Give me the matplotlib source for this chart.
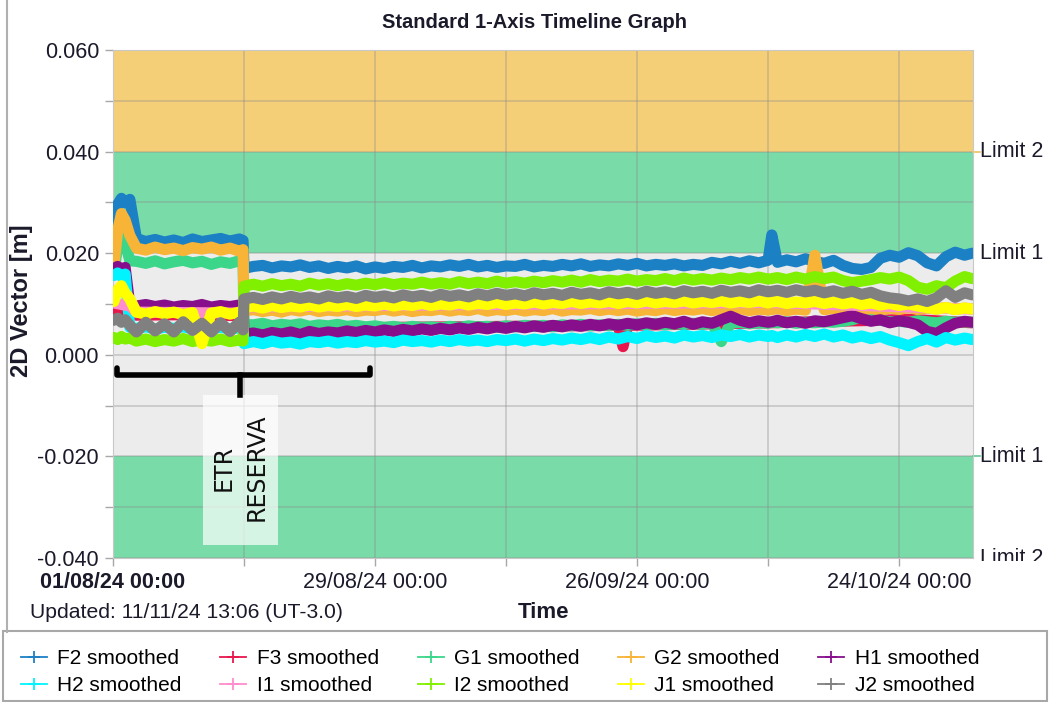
import datetime as dt
import numpy as np
import matplotlib
matplotlib.use("Agg")
import matplotlib.pyplot as plt
from matplotlib.patches import Rectangle
from matplotlib.lines import Line2D
from matplotlib.ticker import MultipleLocator, FormatStrFormatter
from matplotlib.transforms import Bbox, TransformedBbox, blended_transform_factory
import matplotlib.dates as mdates

plt.rcParams['font.family'] = ['Liberation Sans', 'DejaVu Sans']

START = dt.datetime(2024, 8, 1)

# sample times in days after 01/08/24 00:00
days_pre = [0.1, 0.5, 0.9, 1.3, 1.8, 2.5, 3.5, 4.5, 5.5, 6.5, 7.5, 8.5, 9.5, 10.5, 11.5, 12.5, 13.5, 13.9]
days_post = list(range(14, 71)) + [70.4] + list(range(71, 92)) + [91.8]

# smoothed 2D displacement, mm
f2_pre = [19.8, 29.6, 30.8, 29.9, 30.6, 22.9, 22.3, 22.7, 22.2, 22.6, 22.1, 22.8, 22.3, 22.6, 22.9, 22.4, 22.8, 22.5]
f2_post = [17.0,
           17.4, 17.6, 17.1, 17.5, 17.3, 17.7, 17.2, 17.5, 17.0, 17.4,
           17.1, 17.5, 16.9, 17.3, 17.0, 17.4, 17.2, 17.6, 17.1, 17.5,
           17.3, 17.7, 17.4, 17.8, 17.3, 17.6, 17.2, 17.5, 17.4, 17.8,
           17.3, 17.6, 17.4, 17.8, 17.5, 17.9, 17.4, 17.7, 17.5, 17.9,
           17.6, 18.0, 17.5, 17.8, 17.6, 17.9, 17.5, 17.8, 17.6, 18.2,
           17.9, 18.4, 18.0, 18.5, 18.1, 18.6,
           23.6,
           18.2, 18.7, 18.3, 18.9, 18.4, 18.0, 18.6, 17.6, 17.0, 16.8,
           17.2, 19.0, 19.6, 19.2, 20.1, 19.5, 18.1, 17.5, 19.3, 20.2, 19.6,
           20.0]

g1_pre = [16.0, 21.5, 24.0, 22.0, 18.5, 18.4, 18.0, 18.5, 17.9, 18.3, 18.6, 18.1, 18.4, 17.8, 18.3, 18.0, 18.5, 18.2]
g1_post = [6.0,
           5.9, 6.2, 5.7, 6.0, 5.8, 6.1, 5.6, 5.9, 5.7, 6.0,
           5.6, 5.8, 5.5, 5.7, 5.4, 5.6, 5.3, 5.6, 5.4, 5.5,
           5.3, 5.6, 5.4, 5.7, 5.5, 5.6, 5.4, 5.7, 5.5, 5.8,
           5.6, 5.8, 5.5, 5.9, 5.7, 6.0, 5.7, 5.9, 5.8, 6.0,
           5.8, 6.1, 5.9, 6.2, 5.9, 6.1, 6.0, 6.2, 6.0, 6.3,
           2.6, 6.2, 6.4, 6.1, 6.3, 6.2,
           6.5,
           6.3, 6.5, 6.2, 6.4, 6.3, 6.5, 6.4, 6.6, 6.9, 7.5,
           7.3, 6.8, 6.5, 6.6, 6.4, 6.7, 6.5, 6.3, 6.6, 6.4, 6.5,
           6.4]

g2_pre = [17.5, 24.5, 27.8, 26.5, 23.5, 21.0, 20.6, 21.2, 20.7, 21.0, 20.5, 21.1, 20.8, 21.2, 20.6, 21.0, 20.4, 20.7]
g2_post = [8.6,
           8.9, 8.5, 8.8, 8.4, 8.9, 8.6, 9.0, 8.5, 8.8, 8.6,
           8.9, 8.5, 8.8, 8.7, 9.0, 8.6, 8.9, 8.5, 8.8, 8.7,
           9.0, 8.6, 8.9, 8.7, 9.1, 8.6, 8.9, 8.7, 9.0, 8.6,
           8.9, 8.7, 9.1, 8.6, 8.9, 8.8, 9.1, 8.7, 9.0, 8.7,
           9.0, 8.6, 8.9, 8.7, 9.1, 8.7, 9.0, 8.8, 9.1, 8.7,
           9.0, 8.8, 9.1, 8.7, 9.0, 8.8,
           8.9,
           9.1, 8.7, 9.0, 8.8, 19.6, 8.9, 9.1, 8.7, 9.0, 8.8,
           9.1, 8.8, 9.2, 8.9, 9.3, 8.9, 9.2, 9.0, 9.3, 8.9, 9.2,
           9.0]

h1_pre = [17.0, 17.4, 16.8, 17.2, 9.8, 9.6, 9.9, 9.5, 9.8, 9.4, 9.7, 9.5, 9.9, 9.4, 9.7, 9.5, 9.8, 9.6]
h1_post = [4.0,
           4.3, 3.9, 4.4, 4.1, 4.5, 4.0, 4.6, 4.2, 4.5, 4.3,
           4.7, 4.4, 4.8, 4.5, 4.9, 4.6, 5.0, 4.7, 5.1, 4.8,
           5.2, 4.9, 5.3, 5.0, 5.4, 5.1, 5.5, 5.2, 5.6, 5.3,
           5.7, 5.4, 5.8, 5.5, 5.9, 5.6, 6.0, 5.7, 6.1, 5.8,
           6.2, 5.9, 6.3, 6.0, 6.4, 6.1, 6.6, 6.0, 6.5, 6.2,
           6.9, 7.6, 6.8, 6.3, 6.7, 6.4,
           6.5,
           6.8, 6.3, 6.6, 6.2, 6.7, 6.5, 6.9, 7.3, 7.7, 7.1,
           6.6, 6.9, 6.3, 6.7, 6.4, 5.9, 4.6, 4.2, 5.3, 6.2, 6.6,
           6.4]

h2_pre = [15.6, 16.1, 15.4, 15.9, 5.4, 5.2, 5.5, 5.1, 5.4, 5.2, 5.5, 5.1, 5.3, 5.2, 5.4, 5.1, 5.3, 5.2]
h2_post = [2.2,
           2.6, 2.2, 2.7, 2.3, 2.5, 2.1, 2.6, 2.4, 2.7, 2.3,
           2.6, 2.4, 2.8, 2.5, 2.7, 2.4, 2.9, 2.6, 2.8, 2.5,
           2.9, 2.6, 3.0, 2.7, 2.9, 2.6, 3.0, 2.8, 3.1, 2.7,
           3.1, 2.8, 3.2, 2.9, 3.3, 3.0, 3.4, 3.0, 3.5, 3.1,
           3.6, 3.2, 3.8, 3.4, 3.7, 3.3, 3.9, 3.5, 3.8, 3.4,
           3.9, 3.6, 4.0, 3.5, 3.9, 3.6,
           3.8,
           3.4, 3.9, 3.5, 4.0, 3.6, 4.1, 3.5, 3.9, 3.3, 3.7,
           3.2, 3.6, 2.9, 2.4, 1.8, 2.6, 3.2, 2.5, 3.4, 2.9, 3.3,
           3.0]

i2_pre = [3.4, 3.0, 3.6, 3.1, 3.3, 2.7, 3.1, 2.6, 3.0, 2.7, 3.2, 2.6, 3.0, 2.7, 3.1, 2.6, 2.9, 2.7]
i2_post = [13.5,
           13.9, 13.5, 14.0, 13.6, 13.9, 13.5, 14.1, 13.7, 14.0, 13.6,
           14.0, 13.7, 14.1, 13.8, 14.2, 13.8, 14.1, 13.9, 14.3, 13.9,
           14.2, 13.9, 14.4, 14.0, 14.3, 14.0, 14.5, 14.1, 14.4, 14.1,
           14.5, 14.2, 14.6, 14.3, 14.7, 14.3, 14.8, 14.4, 14.7, 14.5,
           14.9, 14.5, 14.8, 14.6, 15.0, 14.6, 15.1, 14.7, 15.0, 14.7,
           15.1, 14.8, 15.2, 14.9, 15.3, 14.9,
           15.0,
           15.2, 14.8, 15.3, 14.9, 15.4, 15.0, 15.3, 14.6, 14.2, 14.5,
           14.8, 15.2, 14.9, 15.3, 14.6, 13.3, 12.9, 13.6, 13.2, 14.5, 15.4,
           15.0]

j1_pre = [10.5, 12.8, 13.6, 12.2, 11.0, 8.4, 8.0, 8.5, 8.1, 8.4, 7.9, 8.3, 2.2, 8.2, 8.5, 8.0, 8.4, 8.1]
j1_post = [9.3,
           9.6, 9.2, 9.7, 9.3, 9.6, 9.4, 9.8, 9.4, 9.7, 9.5,
           9.9, 9.5, 9.8, 9.6, 10.0, 9.6, 9.9, 9.7, 10.1, 9.7,
           10.0, 9.8, 10.2, 9.8, 10.1, 9.9, 10.3, 9.9, 10.2, 10.0,
           10.4, 10.0, 10.3, 10.1, 10.5, 10.1, 10.4, 10.2, 10.5, 10.1,
           10.5, 10.2, 10.6, 10.2, 10.5, 10.3, 10.6, 10.2, 10.5, 10.3,
           10.6, 10.2, 10.5, 10.3, 10.6, 10.2,
           10.4,
           10.5, 10.1, 10.4, 10.2, 10.5, 10.1, 10.4, 10.0, 10.3, 9.9,
           10.2, 9.8, 10.1, 9.7, 10.0, 9.6, 9.3, 9.0, 9.3, 8.9, 9.2,
           9.0]

j2_pre = [6.8, 7.2, 6.4, 6.9, 5.8, 4.5, 6.4, 4.7, 6.1, 4.5, 6.5, 4.8, 6.2, 4.5, 6.3, 4.6, 6.4, 4.9]
j2_post = [11.0,
           11.3, 10.9, 11.4, 11.0, 11.5, 11.1, 11.4, 11.0, 11.6, 11.2,
           11.5, 11.1, 11.7, 11.3, 11.6, 11.2, 11.8, 11.4, 11.7, 11.3,
           11.9, 11.5, 11.8, 11.4, 12.0, 11.6, 12.1, 11.7, 12.0, 11.6,
           12.2, 11.8, 12.1, 11.7, 12.3, 11.9, 12.2, 11.8, 12.4, 12.0,
           12.3, 11.9, 12.5, 12.1, 12.4, 12.0, 12.6, 12.2, 12.5, 12.1,
           12.7, 12.3, 12.6, 12.2, 12.8, 12.4,
           12.5,
           12.7, 12.3, 12.8, 12.4, 12.7, 12.2, 12.6, 12.1, 12.5, 11.9,
           12.3, 11.6, 11.2, 11.0, 10.6, 11.0, 10.5, 11.2, 12.6, 11.3, 12.2,
           11.8]

# F3 and I1 are logged less often
f3_days = [0.1, 0.9, 1.8, 2.5, 8.0, 13.9, 14.0, 30.0, 54.0, 54.5, 55.0, 70.0, 82.0, 85.0, 91.8]
f3_vals = [8.3, 8.0, 8.2, 7.8, 7.9, 7.7, 5.0, 5.4, 5.8, 1.6, 5.8, 6.3, 6.8, 7.0, 6.3]
i1_days = [0.1, 0.9, 1.8, 2.5, 8.0, 13.9, 14.0, 40.0, 70.0, 91.8]
i1_vals = [10.2, 9.9, 9.6, 8.4, 8.3, 8.2, 9.4, 9.9, 10.3, 9.0]

days = days_pre + days_post
series = [
    ("F2 smoothed", "#1b80c4", days, f2_pre + f2_post),
    ("F3 smoothed", "#e8174d", f3_days, f3_vals),
    ("G1 smoothed", "#3cd68a", days, g1_pre + g1_post),
    ("G2 smoothed", "#f7b437", days, g2_pre + g2_post),
    ("H1 smoothed", "#880f8c", days, h1_pre + h1_post),
    ("H2 smoothed", "#00f4ff", days, h2_pre + h2_post),
    ("I1 smoothed", "#ff8ccc", i1_days, i1_vals),
    ("I2 smoothed", "#80f000", days, i2_pre + i2_post),
    ("J1 smoothed", "#ffff00", days, j1_pre + j1_post),
    ("J2 smoothed", "#808080", days, j2_pre + j2_post),
]

limits = [(0.04, "Limit 2"), (0.02, "Limit 1"), (-0.02, "Limit 1"), (-0.04, "Limit 2")]


def at(d):
    return START + dt.timedelta(days=d)


fig = plt.figure(figsize=(10.52, 7.02), dpi=100)
ax = fig.add_axes([113 / 1052, 1 - 558 / 702, 860 / 1052, 508 / 702])

# alarm bands
ax.axhspan(0.04, 0.06, color="#f5cf78", lw=0, zorder=0)
ax.axhspan(0.02, 0.04, color="#79dca8", lw=0, zorder=0)
ax.axhspan(-0.02, 0.02, color="#ececec", lw=0, zorder=0)
ax.axhspan(-0.04, -0.02, color="#79dca8", lw=0, zorder=0)

handles = []
for name, col, d, v in series:
    ax.plot([at(x) for x in d], np.array(v) / 1000, color=col, lw=8,
            solid_joinstyle="round", solid_capstyle="round", zorder=3)
    handles.append(Line2D([], [], color=col, lw=1.3, marker="+", markersize=9,
                          markeredgewidth=1.3, label=name))

ax.set_ylim(-0.04, 0.06)
ax.set_xlim(at(0), at(91.9))
ax.yaxis.set_major_locator(MultipleLocator(0.02))
ax.yaxis.set_minor_locator(MultipleLocator(0.01))
ax.yaxis.set_major_formatter(FormatStrFormatter("%.3f"))

major = [at(28 * k) for k in range(4)]
ax.set_xticks(major, [m.strftime("%d/%m/%y %H:%M") for m in major])
ax.set_xticks([at(14 + 28 * k) for k in range(3)], minor=True)
ax.get_xticklabels()[0].set_fontweight("bold")

ax.grid(which="both", color="#8a8a8a", alpha=0.35, lw=1.3)
ax.tick_params(which="both", length=6, width=1, color="#a8a8a8",
               labelsize=15.5, labelcolor="#1a1a2a", pad=4)
for s in ax.spines.values():
    s.set_color("#c8c8c8")

# limit labels on the right
blend = blended_transform_factory(ax.transAxes, ax.transData)
clip = TransformedBbox(Bbox([[0, 1 - 561 / 702], [1, 1]]), fig.transFigure)
for y, lab in limits:
    t = ax.text(1.008, y, lab, transform=blend, ha="left", va="center",
                fontsize=15.5, color="#1a1a2a", clip_on=False)
    if y == -0.04:
        t.set_clip_box(clip)
        t.set_clip_on(True)
ax.plot([1.0, 1.008], [0.04, 0.04], transform=blend, color="#f0c060", lw=1.2, clip_on=False)
ax.plot([1.0, 1.008], [-0.02, -0.02], transform=blend, color="#62c892", lw=1.2, clip_on=False)

# bracket marking the reserve ETR period
ax.plot([at(0.45), at(0.45), at(27.5), at(27.5)], [-0.0026, -0.0039, -0.0039, -0.0026],
        color="black", lw=4, solid_joinstyle="round", solid_capstyle="round", zorder=5)
ax.plot([at(13.6), at(13.6)], [-0.0039, -0.0079], color="black", lw=4, zorder=5)
ax.add_patch(Rectangle((mdates.date2num(at(9.6)), -0.0374), 8.0, 0.0295,
                       facecolor="white", alpha=0.7, lw=0, zorder=4))
ax.text(at(13.6), -0.0222, "ETR\nRESERVA", rotation=90, ha="center", va="center",
        multialignment="center", linespacing=1.5, fontsize=17, family="DejaVu Sans",
        color="#111111", zorder=6)

fig.text(534 / 1052, 1 - 22 / 702, "Standard 1-Axis Timeline Graph", ha="center", va="center",
         fontsize=14.5, fontweight="bold", color="#1a1a2a")
fig.text(22 / 1052, 1 - 301 / 702, "2D Vector [m]", rotation=90, ha="center", va="center",
         fontsize=17, fontweight="bold", color="#1a1a2a")
fig.text(543 / 1052, 1 - 613 / 702, "Time", ha="center", va="center",
         fontsize=16, fontweight="bold", color="#1a1a2a")
fig.text(30 / 1052, 1 - 612 / 702, "Updated: 11/11/24 13:06 (UT-3.0)", ha="left", va="center",
         fontsize=15.2, color="#1a1a2a")

# frame lines
fig.add_artist(Line2D([7 / 1052, 7 / 1052], [1 - 632 / 702, 1], color="#b0b0b0", lw=1.5))
fig.add_artist(Rectangle((3 / 1052, 0.002), 1044 / 1052, 70 / 702, transform=fig.transFigure,
                         fill=False, edgecolor="#a8a8a8", lw=1.5))

order = [0, 5, 1, 6, 2, 7, 3, 8, 4, 9]
fig.legend([handles[i] for i in order], [handles[i].get_label() for i in order],
           loc="upper left", bbox_to_anchor=(21 / 1052, 1 - 649 / 702), ncol=5, frameon=False,
           fontsize=15, handlelength=1.25, handletextpad=0.5, columnspacing=1.85,
           labelspacing=0.38, borderaxespad=0, borderpad=0)

fig.savefig("out.png", dpi=100)
